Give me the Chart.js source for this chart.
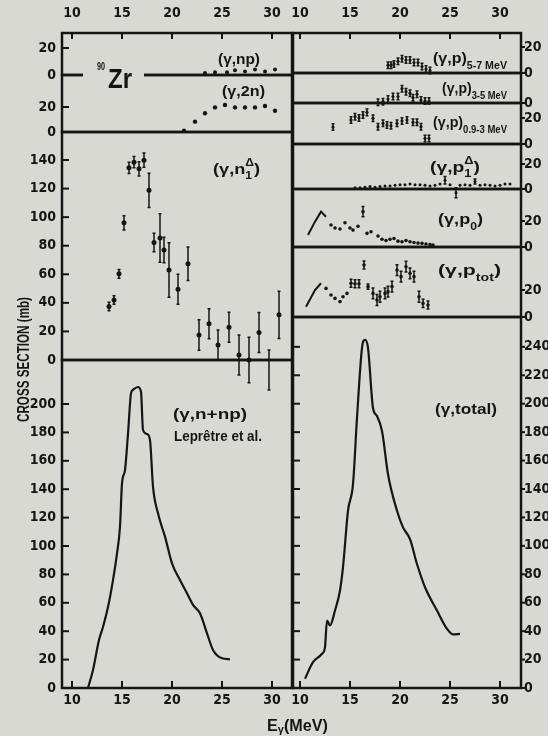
<!DOCTYPE html>
<html lang="en">
<head>
<meta charset="UTF-8">
<title>90Zr photonuclear cross sections</title>
<script src="https://cdn.jsdelivr.net/npm/chart.js"></script>
<style>
  body { margin: 0; background: #d9d9d3; }
  #wrap { position: relative; width: 548px; height: 736px; }
  #wrap canvas { position: absolute; left: 0; top: 0; }
</style>
</head>
<body>
<div id="wrap"></div>
<script>
// ---- data (E in MeV, sigma in mb) ----
const xTicks = [10, 15, 20, 25, 30];

const npE = [23.3, 24.3, 25.5, 26.3, 27.3, 28.3, 29.3, 30.3];
const npV = [1.5, 2, 2, 3.5, 2.5, 4, 2.5, 4];

const twoNE = [21.2, 22.3, 23.3, 24.3, 25.3, 26.3, 27.3, 28.3, 29.3, 30.3];
const twoNV = [1, 8.3, 15, 19.7, 21.6, 19.7, 19.7, 19.7, 20.8, 17];

const n1E = [13.7, 14.2, 14.7, 15.2, 15.7, 16.2, 16.7, 17.2, 17.7, 18.2, 18.8, 19.2,
             19.7, 20.6, 21.6, 22.7, 23.7, 24.6, 25.7, 26.7, 27.7, 28.7, 29.7, 30.7];
const n1V = [37.4, 42, 60.3, 96, 134.5, 138.5, 133.8, 139.9, 118.8, 82.3, 85.4, 77,
             63, 49.6, 67.4, 17.5, 25.3, 10.5, 22.9, 3.5, 0, 19.2, -7, 31.6];
const n1Err = [3, 3, 3, 5, 4, 4, 5, 5, 12, 6.5, 17, 9, 19, 10.5, 11.7, 10.7, 10.5, 10.5,
               10.5, 14, 16, 14, 14, 16.5];

const nnpE = [11.6, 12.1, 12.7, 13.1, 13.6, 14.1, 14.5, 14.8, 15.0, 15.3, 15.6, 15.9, 16.1,
              16.6, 16.9, 17.1, 17.5, 17.8, 18.1, 18.6, 19.3, 20.0, 20.8, 21.5, 22.1, 22.8,
              23.5, 24.1, 25.0, 25.8];
const nnpV = [0, 12.7, 33.8, 43, 57, 76, 94.8, 113.6, 144, 153.5, 179, 207.5, 210,
              212, 208.7, 181.7, 178.9, 174.6, 141.8, 123, 106.6, 87.8, 76, 66.7, 58.5, 52.6,
              38.5, 26.8, 20.9, 20.2];

const p57E = [18.8, 19.1, 19.4, 19.8, 20.2, 20.6, 21.0, 21.4, 21.8, 22.2, 22.6, 23.0];
const p57V = [6, 6, 7, 9, 11, 10, 10, 8, 8, 5, 3, 2];

const p35E = [17.8, 18.3, 18.8, 19.3, 19.8, 20.2, 20.6, 21.0, 21.3, 21.7, 22.1, 22.5, 22.9];
const p35V = [0.5, 1, 3, 5, 5, 11, 8.7, 7.5, 4, 6.7, 2.3, 1.5, 1.5];

const p093E = [13.3, 15.1, 15.5, 15.9, 16.3, 16.7, 17.3, 17.8, 18.3, 18.7, 19.1, 19.7,
               20.2, 20.7, 21.3, 21.7, 22.1, 22.5, 22.9];
const p093V = [13, 18.5, 21, 20, 22.3, 24.3, 19.7, 13.3, 15.9, 14.6, 14, 15.9,
               17.7, 18.5, 16.7, 16.7, 13.3, 4.3, 4.3];

const p1E = [15.5, 16, 16.5, 17, 17.5, 18, 18.5, 19, 19.5, 20, 20.5, 21, 21.5, 22, 22.5, 23,
             23.5, 24, 24.5, 25, 25.6, 26, 26.5, 27, 27.5, 28, 28.5, 29, 29.5, 30, 30.5, 31];
const p1V = [1, 1, 1.5, 2, 1.5, 2, 2.5, 2.5, 3, 3.5, 3.5, 4, 3.5, 3.5, 3, 2.5,
             3, 4, 7, 3.5, -3, 3, 3.5, 3, 6, 3, 3.5, 3, 2.5, 3, 4, 4];
const p1Err = [0, 0, 0, 0, 0, 0, 0, 0, 0, 0, 0, 0, 0, 0, 0, 0,
               0, 0, 3, 0, 4, 0, 0, 0, 2, 0, 0, 0, 0, 0, 0, 0];

const p0LineE = [10.8, 11.5, 12.1, 12.6];
const p0LineV = [9.2, 19.5, 27.2, 23.3];
const p0E = [13.1, 13.5, 14.0, 14.5, 15.0, 15.3, 15.8, 16.3, 16.7, 17.1, 17.8, 18.2, 18.6,
             19.0, 19.4, 19.8, 20.2, 20.6, 21.0, 21.4, 21.8, 22.2, 22.6, 23.0, 23.3];
const p0V = [16.9, 14.6, 13.8, 18.7, 14.6, 13, 16, 27.2, 10.5, 11.7, 8.5, 6, 5,
             6, 6.5, 4.5, 4, 5, 4, 3.5, 3, 2.8, 2.3, 1.8, 1.5];
const p0Err = [0, 0, 0, 0, 0, 0, 0, 4, 0, 0, 0, 0, 0, 0, 0, 0, 0, 0, 0, 0, 0, 0, 0, 0, 0];

const ptLineE = [10.6, 11.5, 12.1];
const ptLineV = [7.6, 20, 25];
const ptE = [12.6, 13.1, 13.5, 14.0, 14.3, 14.7, 15.1, 15.5, 15.9, 16.4, 16.8, 17.3, 17.7,
             18.0, 18.5, 18.8, 19.2, 19.7, 20.1, 20.6, 21.0, 21.4, 21.9, 22.3, 22.8];
const ptV = [21.2, 16.3, 13.8, 11.4, 15, 17.5, 25, 24.7, 24.7, 38.5, 22.5, 17.5, 12.6,
             15, 17.5, 18.8, 22.5, 34.8, 29.9, 37.3, 32.4, 29.9, 15, 10.1, 8.9];
const ptErr = [0, 0, 0, 0, 0, 0, 3, 3, 3, 3, 2, 4, 4, 4, 4, 4, 4, 4, 4, 4, 4, 4, 4, 3, 3];

const totE = [10.5, 11.3, 12.2, 12.5, 12.7, 13.0, 13.5, 14.0, 14.3, 14.8, 15.3, 15.7, 16.2,
              16.5, 16.8, 17.3, 17.7, 18.2, 18.8, 19.7, 20.3, 21.0, 21.7, 22.5, 23.7, 24.7,
              25.3, 26.0];
const totV = [6.5, 18.2, 24.1, 28.8, 47.5, 44, 54.5, 68.6, 85, 124.7, 143.4, 190, 239.3,
              245, 239.3, 197, 191.3, 180.8, 150.4, 124.7, 113, 104.8, 87.2, 70.9, 54.5, 41.6,
              37.7, 38.1];

const npTicks = [0, 20];
const twoNTicks = [0, 20];
const n1Ticks = [0, 20, 40, 60, 80, 100, 120, 140];
const nnpTicks = [0, 20, 40, 60, 80, 100, 120, 140, 160, 180, 200];
const p57Ticks = [0, 20];
const p35Ticks = [0];
const p093Ticks = [0, 20];
const p1Ticks = [0, 20];
const p0Ticks = [0, 20];
const ptTicks = [0, 20];
const totTicks = [0, 20, 40, 60, 80, 100, 120, 140, 160, 180, 200, 220, 240];

// ---- drawing ----
const INK = '#151515';
const BG = '#d9d9d3';
const TICK_FONT = '"Liberation Sans Narrow", "DejaVu Sans Condensed", "Liberation Sans", Arial, sans-serif';
const NOTE_FONT = '"Liberation Sans", Arial, sans-serif';
const W = 548, H = 736;

function dots(xs, ys, errs, r) {
  return {
    data: xs.map((x, i) => ({ x, y: ys[i] })), errs,
    showLine: false, pointRadius: r, pointBackgroundColor: INK, pointBorderWidth: 0
  };
}
function curve(xs, ys, w) {
  return {
    data: xs.map((x, i) => ({ x, y: ys[i] })),
    showLine: true, borderColor: INK, borderWidth: w, pointRadius: 0,
    cubicInterpolationMode: 'monotone'
  };
}

// mixed text with sub/superscripts, squeezed to a target width
function rich(ctx, x, y, parts, size, targetW) {
  const fontFor = k => `bold ${k ? Math.round(size * 0.68) : size}px ${NOTE_FONT}`;
  const widthOf = (t, k) => {
    ctx.font = fontFor(k);
    if (k === 'ss') return Math.max(...t.split('|').map(s => ctx.measureText(s).width));
    return ctx.measureText(t).width;
  };
  const nat = parts.reduce((w, [t, k]) => w + widthOf(t, k), 0);
  ctx.save();
  ctx.translate(x, y);
  ctx.scale(targetW ? targetW / nat : 1, 1);
  ctx.fillStyle = INK;
  ctx.textAlign = 'left';
  ctx.textBaseline = 'alphabetic';
  let cx = 0;
  parts.forEach(([t, k]) => {
    const w = widthOf(t, k);
    if (k === 'sub') ctx.fillText(t, cx, size * 0.42);
    else if (k === 'lo') ctx.fillText(t, cx, size * 0.15);
    else if (k === 'sup') ctx.fillText(t, cx, -size * 0.5);
    else if (k === 'ss') {
      const [a, b] = t.split('|');
      ctx.fillText(a, cx, -size * 0.55);
      ctx.fillText(b, cx, size * 0.35);
    } else ctx.fillText(t, cx, 0);
    cx += w;
  });
  ctx.restore();
}

function drawNotes(ctx) {
  // gap in the (γ,np) zero line for the nucleus label
  ctx.fillStyle = BG;
  ctx.fillRect(83, 71, 61, 8);
  rich(ctx, 97, 70, [['90', '']], 10, 8);
  rich(ctx, 108, 88, [['Zr', '']], 28, 24);

  rich(ctx, 218, 64, [['(γ,np)', '']], 15, 42);
  rich(ctx, 222, 96, [['(γ,2n)', '']], 15, 43);
  rich(ctx, 213, 174, [['(γ,n', ''], ['Δ|1', 'ss'], [')', '']], 15, 47);
  rich(ctx, 173, 419, [['(γ,n+np)', '']], 15, 74);
  rich(ctx, 174, 441, [['Leprêtre et al.', '']], 15, 88);

  rich(ctx, 433, 63, [['(γ,p)', ''], ['5-7 MeV', 'sub']], 15, 74);
  rich(ctx, 442, 93, [['(γ,p)', ''], ['3-5 MeV', 'sub']], 15, 65);
  rich(ctx, 433, 127, [['(γ,p)', ''], ['0.9-3 MeV', 'sub']], 15, 74);
  rich(ctx, 430, 172, [['(γ,p', ''], ['Δ|1', 'ss'], [')', '']], 15, 50);
  rich(ctx, 438, 224, [['(γ,p', ''], ['0', 'sub'], [')', '']], 15, 45);
  rich(ctx, 438, 275, [['(γ,p', ''], ['tot', 'sub'], [')', '']], 15, 63);
  rich(ctx, 435, 414, [['(γ,total)', '']], 15, 62);

  rich(ctx, 267, 731, [['E', ''], ['γ', 'lo'], ['(MeV)', '']], 16, 61);

  ctx.save();
  ctx.translate(29, 360);
  ctx.rotate(-Math.PI / 2);
  rich(ctx, -62, 0, [['CROSS SECTION (mb)', '']], 16, 125);
  ctx.restore();
}

const panelPlugin = {
  id: 'panel',
  afterDatasetsDraw(chart) {
    const { ctx, scales: { x, y } } = chart;
    chart.data.datasets.forEach(ds => {
      if (!ds.errs) return;
      ctx.save();
      ctx.strokeStyle = INK;
      ctx.lineWidth = 1.5;
      ds.data.forEach((p, i) => {
        const e = ds.errs[i];
        if (!e) return;
        const px = x.getPixelForValue(p.x);
        const y1 = y.getPixelForValue(p.y - e), y2 = y.getPixelForValue(p.y + e);
        ctx.beginPath();
        ctx.moveTo(px, y1); ctx.lineTo(px, y2);
        ctx.moveTo(px - 1.5, y1); ctx.lineTo(px + 1.5, y1);
        ctx.moveTo(px - 1.5, y2); ctx.lineTo(px + 1.5, y2);
        ctx.stroke();
      });
      ctx.restore();
    });
  },
  afterDraw(chart, args, opts) {
    const { ctx, chartArea: a, scales: { x, y } } = chart;
    ctx.save();
    ctx.strokeStyle = INK;
    ctx.lineWidth = 2.5;
    ctx.strokeRect(a.left, a.top, a.right - a.left, a.bottom - a.top);
    ctx.lineWidth = 2;
    const mark = (x1, y1, x2, y2) => { ctx.beginPath(); ctx.moveTo(x1, y1); ctx.lineTo(x2, y2); ctx.stroke(); };
    const yt = opts.yTicks || [];
    if (opts.leftIn) yt.forEach(v => { const p = y.getPixelForValue(v); mark(a.left, p, a.left + 7, p); });
    if (opts.rightOut) yt.forEach(v => { const p = y.getPixelForValue(v); mark(a.right, p, a.right + 4, p); });
    if (opts.top) xTicks.forEach(v => { const p = x.getPixelForValue(v); mark(p, a.top, p, a.top + 6); });
    if (opts.bottom) xTicks.forEach(v => { const p = x.getPixelForValue(v); mark(p, a.bottom, p, a.bottom - 7); });
    ctx.restore();
    if (opts.notes) drawNotes(ctx);
  }
};

function makePanel(c) {
  const cv = document.createElement('canvas');
  cv.width = W; cv.height = H;
  document.getElementById('wrap').appendChild(cv);
  const [l, t, r, b] = c.box;
  const tickFont = { family: TICK_FONT, size: 14, weight: 'bold' };
  // the axis boxes take the whole margin on their side, so labels are not clipped
  const pad = {
    left: c.side === 'left' ? 0 : l,
    right: c.side === 'right' ? 0 : W - r,
    top: c.xPos === 'top' ? 0 : t,
    bottom: c.xPos === 'bottom' ? 0 : H - b
  };
  new Chart(cv, {
    type: 'scatter',
    data: { datasets: c.datasets },
    options: {
      responsive: false,
      animation: false,
      events: [],
      layout: { padding: pad },
      plugins: {
        legend: { display: false },
        tooltip: { enabled: false },
        panel: {
          yTicks: c.yTicks, leftIn: c.side === 'left' || c.leftIn, rightOut: c.side === 'right',
          top: c.xPos === 'top', bottom: c.xPos === 'bottom', notes: c.notes
        }
      },
      scales: {
        x: {
          type: 'linear', position: c.xPos || 'bottom', display: !!c.xPos,
          min: c.xr[0], max: c.xr[1],
          grid: { display: false, drawTicks: false }, border: { display: false },
          ticks: { font: tickFont, color: INK, padding: c.xPos === 'top' ? 11 : 4, maxRotation: 0, autoSkip: false },
          afterBuildTicks: s => { s.ticks = xTicks.map(v => ({ value: v })); },
          afterFit: s => { s.height = !c.xPos ? 0 : (c.xPos === 'top' ? t : H - b); }
        },
        y: {
          type: 'linear', position: c.side, min: c.yr[0], max: c.yr[1],
          grid: { display: false, drawTicks: false }, border: { display: false },
          ticks: { font: tickFont, color: INK, padding: c.side === 'left' ? 6 : 3, autoSkip: false },
          afterBuildTicks: s => { s.ticks = c.yTicks.map(v => ({ value: v })); },
          afterFit: s => { s.width = c.side === 'left' ? l : W - r; }
        }
      }
    },
    plugins: [panelPlugin]
  });
}

const LX = [9.0, 32.0], RX = [9.3, 32.1];

// left column
makePanel({ box: [62, 33, 292, 75], xr: LX, yr: [0, 31.1], yTicks: npTicks, side: 'left', xPos: 'top',
  datasets: [dots(npE, npV, null, 2)] });
makePanel({ box: [62, 75, 292, 132], xr: LX, yr: [0, 45.6], yTicks: twoNTicks, side: 'left',
  datasets: [dots(twoNE, twoNV, null, 2.2)] });
makePanel({ box: [62, 132, 292, 360], xr: LX, yr: [0, 159.6], yTicks: n1Ticks, side: 'left',
  datasets: [Object.assign(dots(n1E, n1V, n1Err, 2.5), { clip: false })] });
makePanel({ box: [62, 360, 292, 688], xr: LX, yr: [0, 231], yTicks: nnpTicks, side: 'left', xPos: 'bottom',
  datasets: [curve(nnpE, nnpV, 2.2)] });

// right column
makePanel({ box: [293, 33, 521, 73], xr: RX, yr: [0, 30.8], yTicks: p57Ticks, side: 'right', xPos: 'top',
  datasets: [dots(p57E, p57V, p57V.map(() => 2.5), 1.6)] });
makePanel({ box: [293, 73, 521, 103], xr: RX, yr: [0, 23], yTicks: p35Ticks, side: 'right',
  datasets: [dots(p35E, p35V, p35V.map(() => 2.5), 1.6)] });
makePanel({ box: [293, 103, 521, 144], xr: RX, yr: [0, 31.5], yTicks: p093Ticks, side: 'right',
  datasets: [dots(p093E, p093V, p093V.map(() => 2.5), 1.6)] });
makePanel({ box: [293, 144, 521, 189], xr: RX, yr: [0, 36], yTicks: p1Ticks, side: 'right',
  datasets: [Object.assign(dots(p1E, p1V, p1Err, 1.5), { clip: false })] });
makePanel({ box: [293, 189, 521, 247], xr: RX, yr: [0, 44.6], yTicks: p0Ticks, side: 'right',
  datasets: [Object.assign(curve(p0LineE, p0LineV, 2), { cubicInterpolationMode: 'default', tension: 0 }),
             dots(p0E, p0V, p0Err, 1.8)] });
makePanel({ box: [293, 247, 521, 317], xr: RX, yr: [0, 51.9], yTicks: ptTicks, side: 'right',
  datasets: [Object.assign(curve(ptLineE, ptLineV, 2), { cubicInterpolationMode: 'default', tension: 0 }),
             dots(ptE, ptV, ptErr, 1.8)] });
makePanel({ box: [293, 317, 521, 688], xr: RX, yr: [0, 261], yTicks: totTicks, side: 'right', xPos: 'bottom',
  leftIn: true, notes: true,
  datasets: [curve(totE, totV, 2.2)] });
</script>
</body>
</html>
